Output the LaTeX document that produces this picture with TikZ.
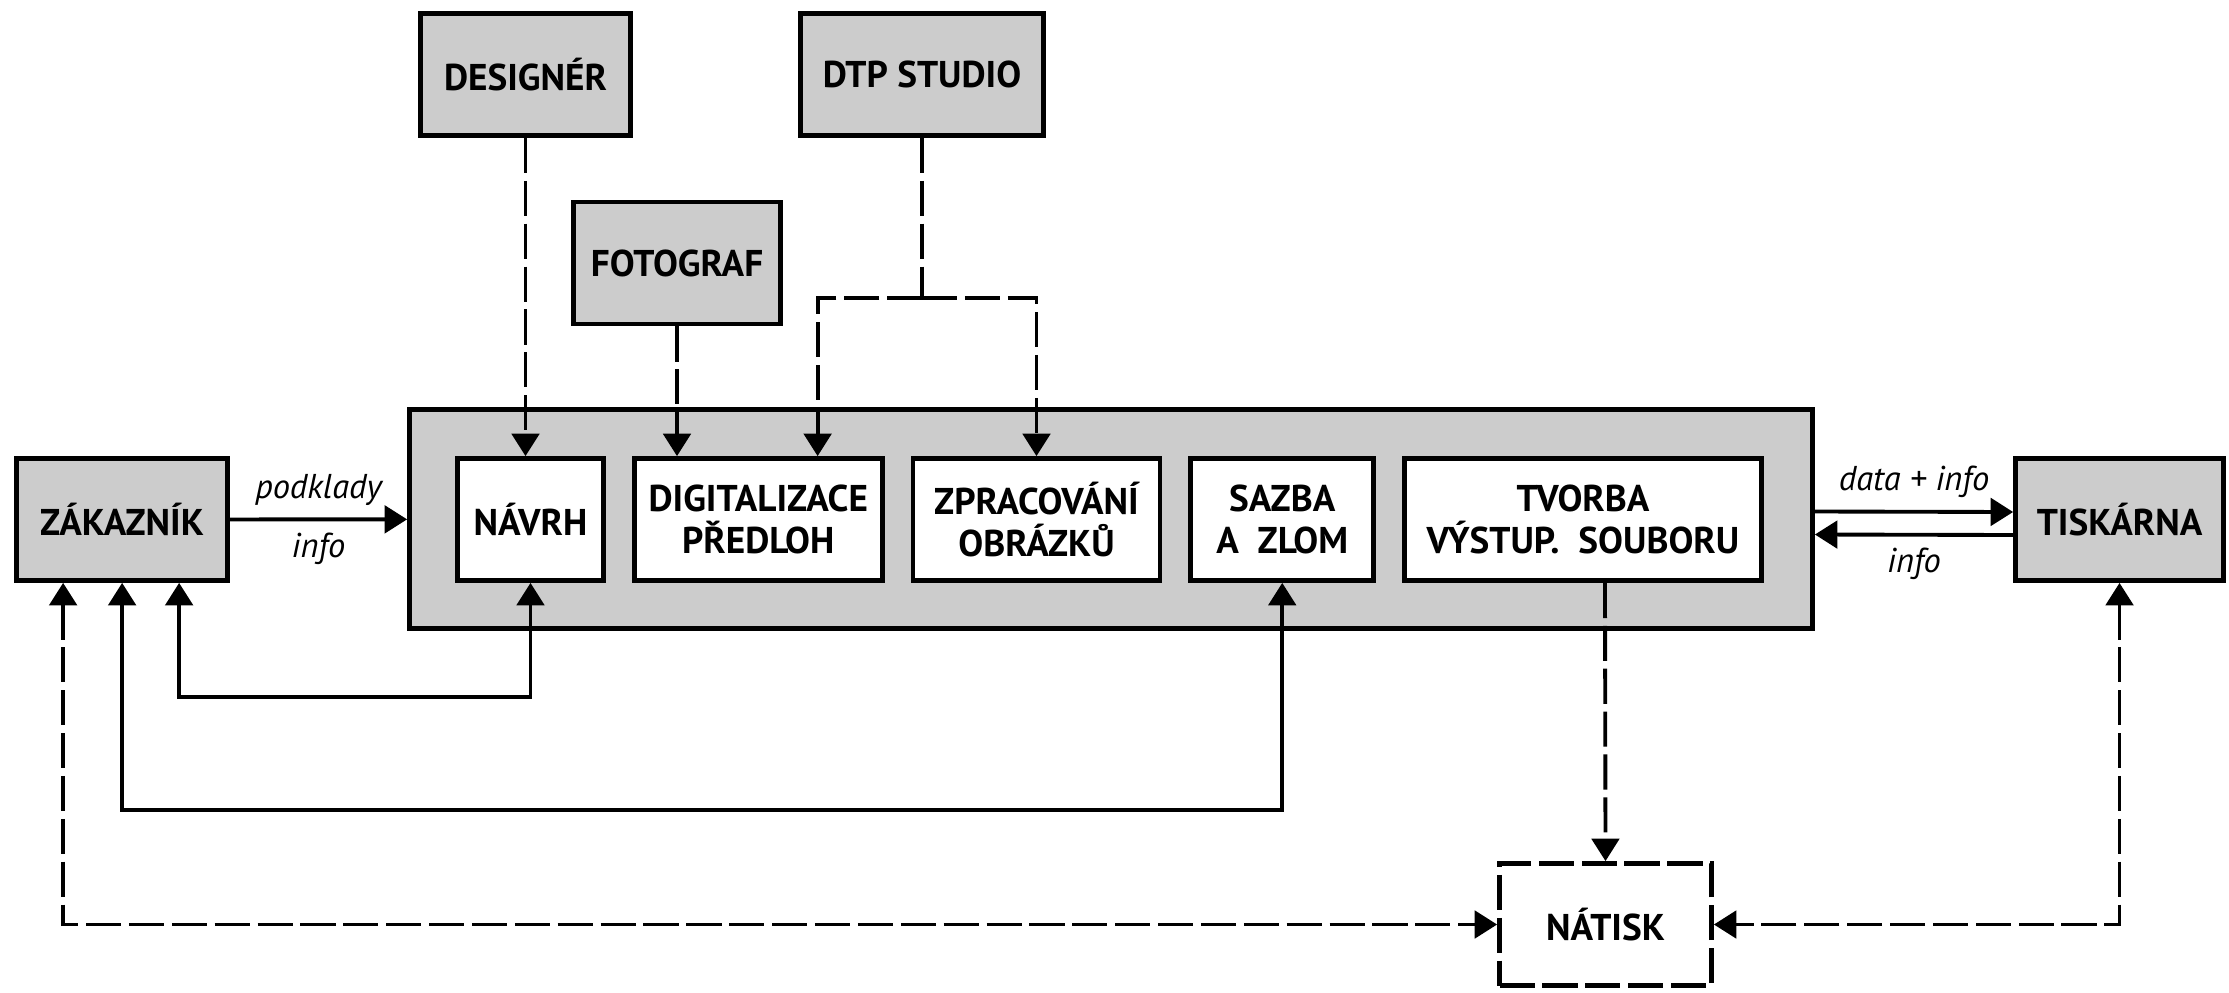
\documentclass[tikz,border=0pt]{standalone}
\usepackage{fontspec}
\setmainfont{PT Sans}
\usetikzlibrary{positioning,arrows.meta}

\begin{document}
\begin{tikzpicture}[
  box/.style={draw, rectangle, line width=1.35pt, minimum width=#1, minimum height=1.22cm, align=center, inner sep=1pt, font=\bfseries\fontsize{10.6}{12}\selectfont},
  party/.style={box=#1, fill=black!20},
  task/.style={box=#1, fill=white},
  proof/.style={box=#1, fill=white, dash pattern=on 10pt off 2.2pt},
  flow/.style={line width=1.1pt},
  dflow/.style={line width=1.1pt, dash pattern=on 10pt off 2.2pt},
  lbl/.style={font=\itshape\fontsize{9.8}{11}\selectfont},
  >={Triangle[length=6.4pt,width=7.8pt]}
]
\useasboundingbox (0,0) rectangle (22.29,9.92);

% Outside parties
\node[party=2.11cm] (zakaznik) at (1.22,4.725) {ZÁKAZNÍK};
\node[party=2.08cm] (tiskarna) at (21.195,4.725) {TISKÁRNA};
\node[party=2.10cm] (designer) at (5.255,9.175) {DESIGNÉR};
\node[party=2.43cm] (dtp) at (9.22,9.175) {DTP STUDIO};
\node[party=2.07cm] (foto) at (6.77,7.29) {FOTOGRAF};

% Prepress block
\node[draw, fill=black!20, line width=1.35pt, minimum width=14.03cm, minimum height=2.19cm] (prepress) at (11.11,4.73) {};

% Steps inside the block
\node[task=1.46cm] (navrh) at (5.305,4.725) {NÁVRH};
\node[task=2.48cm, right=0.26cm of navrh] (digit) {DIGITALIZACE\\PŘEDLOH};
\node[task=2.47cm, right=0.26cm of digit] (obrazky) {ZPRACOVÁNÍ\\OBRÁZKŮ};
\node[task=1.83cm, right=0.26cm of obrazky] (sazba) {SAZBA\\A\ \ ZLOM};
\node[task=3.57cm, right=0.26cm of sazba] (tvorba) {TVORBA\\VÝSTUP.\ \ SOUBORU};

% Proof
\node[proof=2.12cm] (natisk) at (16.055,0.675) {NÁTISK};

% Inputs from above
\draw[dflow, ->] (designer.south) -- (designer.south |- navrh.north);
\draw[dflow, ->] (foto.south) -- (foto.south |- digit.north);
\draw[dflow] (dtp.south) -- ++(0,-1.6) coordinate (dtpsplit);
\draw[dflow, ->] (dtpsplit) -| ([xshift=-0.67cm]digit.north east);
\draw[dflow, ->] (dtpsplit) -| (obrazky.north);

% Customer and printer
\draw[flow, ->] (zakaznik) -- (prepress)
  node[lbl, midway, above] {podklady}
  node[lbl, midway, below] {info};
\draw[flow, ->] ([yshift=0.75mm]prepress.east) -- ([yshift=0.75mm]tiskarna.west)
  node[lbl, midway, above] {data + info};
\draw[flow, ->] ([yshift=-1.55mm]tiskarna.west) -- ([yshift=-1.55mm]prepress.east)
  node[lbl, midway, below] {info};

% Feedback to the customer
\draw[flow, <->] (navrh.south) -- ++(0,-1.14) -| ([xshift=1.65cm]zakaznik.south west);
\draw[flow, <->] (sazba.south) -- ++(0,-2.27) -| ([xshift=1.08cm]zakaznik.south west);

% Proof loop
\draw[dflow, ->] ([xshift=0.22cm]tvorba.south) -- (natisk.north);
\draw[dflow, <->] ([xshift=0.49cm]zakaznik.south west) |- (natisk.west);
\draw[dflow, <->] (tiskarna.south) |- (natisk.east);

\end{tikzpicture}
\end{document}
